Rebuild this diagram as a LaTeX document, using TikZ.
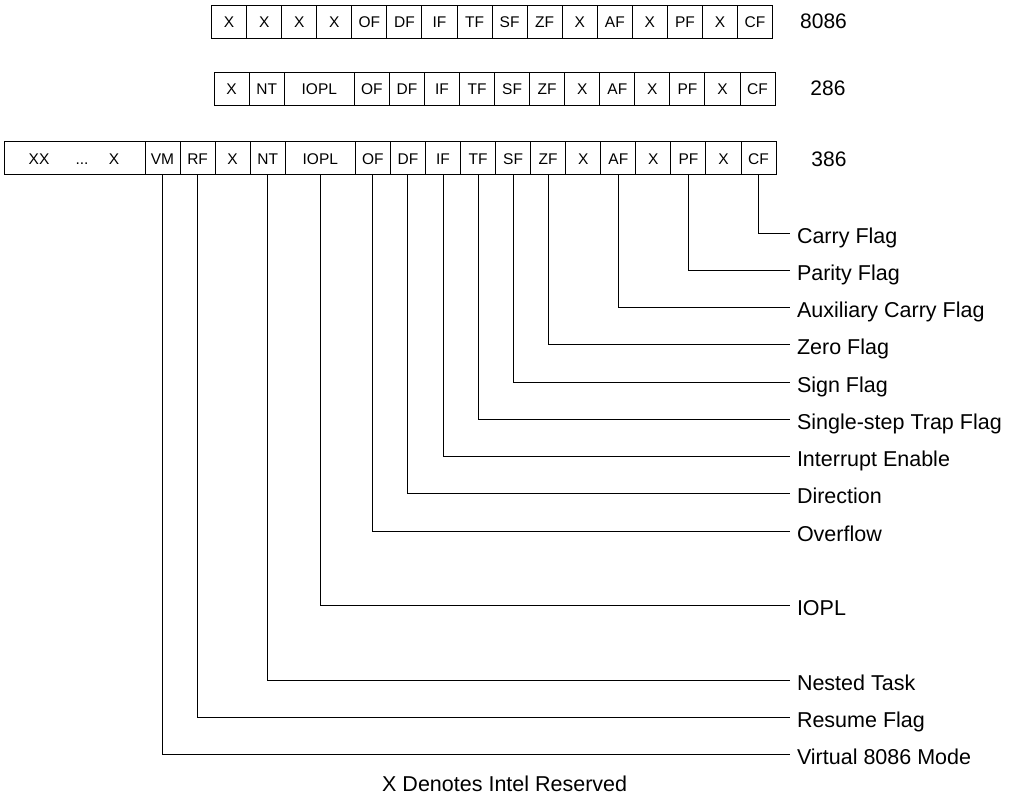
\documentclass[tikz,border=0pt]{standalone}
\usepackage{fontspec}
\setmainfont{Liberation Sans}
\begin{document}
\begin{tikzpicture}[x=1pt,y=-1pt,
  cell/.style={draw, line width=1pt, inner sep=0pt, outer sep=0pt, minimum height=33pt,
    anchor=north west, font=\fontsize{15.5}{17}\selectfont, text height=11.1pt, text depth=0pt},
  celltxt/.style={inner sep=0pt, font=\fontsize{15.5}{17}\selectfont, text height=11.1pt, text depth=0pt},
  rowlbl/.style={inner sep=0pt, font=\fontsize{21}{24}\selectfont, text height=15pt, text depth=0pt},
  flaglbl/.style={anchor=west, inner sep=0pt, outer xsep=7pt, font=\fontsize{21.5}{24}\selectfont,
    text height=20.4pt, text depth=0pt},
  conn/.style={line width=1pt}]
\useasboundingbox (0,0) rectangle (1018,797);
\def\cellw{35.06}
% 8086 row
\foreach \cname/\ctext/\cidx/\cun in {ra/X/2/1, rb/X/3/1, rc/X/4/1, rd/X/5/1, of/OF/6/1, df/DF/7/1,
  if/IF/8/1, tf/TF/9/1, sf/SF/10/1, zf/ZF/11/1, re/X/12/1, af/AF/13/1, rf/X/14/1, pf/PF/15/1,
  rg/X/16/1, cf/CF/17/1}
  \node[cell, minimum width={\cun*\cellw*1pt}] (c8086-\cname) at ({141.5+\cidx*\cellw}, 5.5) {\ctext};
% 286 row
\foreach \cname/\ctext/\cidx/\cun in {ra/X/2/1, nt/NT/3/1, io/IOPL/4/2, of/OF/6/1, df/DF/7/1,
  if/IF/8/1, tf/TF/9/1, sf/SF/10/1, zf/ZF/11/1, re/X/12/1, af/AF/13/1, rf/X/14/1, pf/PF/15/1,
  rg/X/16/1, cf/CF/17/1}
  \node[cell, minimum width={\cun*\cellw*1pt}] (c286-\cname) at ({144+\cidx*\cellw}, 72.5) {\ctext};
% 386 row
\node[cell, minimum width=141pt] (c386-xx) at (4,142) {};
\node[celltxt] (xx1) at (39,158.5) {XX};
\node[celltxt] (xx2) at (82,158.5) {...};
\node[celltxt] (xx3) at (114,158.5) {X};
\foreach \cname/\ctext/\cidx/\cun in {vm/VM/0/1, rf/RF/1/1, ra/X/2/1, nt/NT/3/1, io/IOPL/4/2, of/OF/6/1, df/DF/7/1,
  if/IF/8/1, tf/TF/9/1, sf/SF/10/1, zf/ZF/11/1, re/X/12/1, af/AF/13/1, rx/X/14/1, pf/PF/15/1,
  rg/X/16/1, cf/CF/17/1}
  \node[cell, minimum width={\cun*\cellw*1pt}] (c386-\cname) at ({145+\cidx*\cellw}, 142) {\ctext};
% row labels
\node[rowlbl] (l8086) at (823.5,21) {8086};
\node[rowlbl] (l286) at (828,88.5) {286};
\node[rowlbl] (l386) at (829,159) {386};
% flags
\foreach \fn/\ft/\fk in {cf/Carry Flag/0, pf/Parity Flag/1, af/Auxiliary Carry Flag/2, zf/Zero Flag/3,
  sf/Sign Flag/4, tf/Single-step Trap Flag/5, if/Interrupt Enable/6, df/Direction/7, of/Overflow/8,
  io/IOPL/10, nt/Nested Task/12, rf/Resume Flag/13, vm/Virtual 8086 Mode/14}
{
  \node[flaglbl] (lab-\fn) at (790, {233+37.25*\fk}) {\ft};
  \draw[conn] (c386-\fn.south) |- (lab-\fn.west);
}
\node[anchor=west, inner sep=0pt, font=\fontsize{21.5}{24}\selectfont, text height=15.4pt, text depth=0pt]
  (note) at (382,784) {X Denotes Intel Reserved};
\end{tikzpicture}
\end{document}
